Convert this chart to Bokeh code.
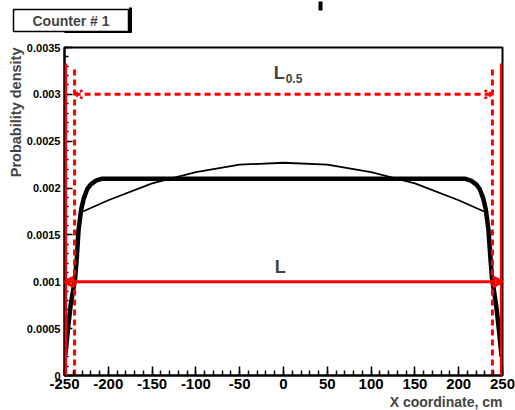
import numpy as np
from bokeh.plotting import figure
from bokeh.models import (Range1d, FixedTicker, Label, Arrow, OpenHead, BoxAnnotation, Title,
                          LinearAxis)
from bokeh.embed import file_html
from bokeh.resources import INLINE

# ---- data ----
thick_x = [-249, -246, -243, -240, -238, -236, -234, -231, -228, -224, -220, -214, -207,
           -150, -100, -50, 0, 50, 100, 150,
           207, 214, 220, 224, 228, 231, 234, 236, 238, 240, 243, 246, 249]
thick_y = [0.00022, 0.00050, 0.00075, 0.00092, 0.00102, 0.00125, 0.00155, 0.00177, 0.00189,
           0.00199, 0.00204, 0.00208, 0.00210,
           0.00210, 0.00210, 0.00210, 0.00210, 0.00210, 0.00210, 0.00210,
           0.00210, 0.00208, 0.00204, 0.00199, 0.00189, 0.00177, 0.00155, 0.00128,
           0.00104, 0.00092, 0.00073, 0.00048, 0.00020]

thin_x = [-229, -200, -150, -100, -50, 0, 50, 100, 150, 200, 229]
thin_y = [0.00175, 0.00187, 0.00205, 0.00217, 0.00225, 0.00227, 0.00225, 0.00217, 0.00205,
          0.00187, 0.00175]

x_ticks = [-250, -200, -150, -100, -50, 0, 50, 100, 150, 200, 250]
x_tick_labels = ["-250", "-200", "-150", "-100", "-50", "0", "50", "100", "150", "200", "250"]
y_ticks = [0, 0.0005, 0.001, 0.0015, 0.002, 0.0025, 0.003, 0.0035]
y_tick_labels = ["0", "0.0005", "0.001", "0.0015", "0.002", "0.0025", "0.003", "0.0035"]

L_ends = [-250, 250]
L_level = 0.001
L_top = 0.00333
L05_ends = [-238.5, 238.5]
L05_level = 0.003
L05_top = 0.00328

FONT = "Liberation Sans"
X0, X1 = -250, 250
FRAME_LEFT, FRAME_W = 64, 438


def px_to_x(px):
    """canvas pixel column -> x value (for decorations outside the frame)"""
    return X0 + (px - FRAME_LEFT) * (X1 - X0) / FRAME_W


p = figure(width=515, height=410, output_backend="svg", toolbar_location=None,
           x_range=Range1d(X0, X1), y_range=Range1d(0, 0.0035),
           min_border_left=64, min_border_right=13, min_border_top=47, min_border_bottom=35)
p.background_fill_color = "white"
p.border_fill_color = "white"
p.outline_line_color = "black"
p.outline_line_width = 2
p.xgrid.visible = False
p.ygrid.visible = False
p.title.visible = False

x_minor = [v for v in range(-250, 251, 10)]
y_minor = [round(i * 0.0001, 4) for i in range(0, 36)]
p.xaxis.ticker = FixedTicker(ticks=x_ticks, minor_ticks=x_minor)
p.yaxis.ticker = FixedTicker(ticks=y_ticks, minor_ticks=y_minor)
p.xaxis.major_label_overrides = {t: s for t, s in zip(x_ticks, x_tick_labels)}
p.yaxis.major_label_overrides = {t: s for t, s in zip(y_ticks, y_tick_labels)}

for ax in (p.xaxis[0], p.yaxis[0]):
    ax.axis_line_color = "black"
    ax.axis_line_width = 2
    ax.major_tick_out = 0
    ax.minor_tick_out = 0
    ax.major_tick_line_width = 1.5
    ax.minor_tick_line_width = 1.5
    ax.major_label_text_font = FONT
    ax.major_label_text_font_style = "bold"
    ax.major_label_text_color = "black"
p.xaxis.major_tick_in = 9
p.xaxis.minor_tick_in = 5
p.yaxis.major_tick_in = 8
p.yaxis.minor_tick_in = 4
p.xaxis.major_label_text_font_size = "15px"
p.yaxis.major_label_text_font_size = "11px"
p.xaxis.major_label_standoff = 3
p.yaxis.major_label_standoff = 4

# curves
p.line(thin_x, thin_y, line_color="black", line_width=1.8)
p.line(thick_x, thick_y, line_color="black", line_width=4.5)

# L0.5 dashed markers
p.segment(x0=L05_ends, y0=[0, 0], x1=L05_ends, y1=[L05_top, L05_top],
          line_color="red", line_width=3, line_dash="6 4")
p.add_layout(Arrow(x_start=L05_ends[0], y_start=L05_level, x_end=L05_ends[1], y_end=L05_level,
                   line_color="red", line_width=3, line_dash="6 4",
                   start=OpenHead(size=8, line_color="red", line_width=2.5, line_dash="3 2"),
                   end=OpenHead(size=8, line_color="red", line_width=2.5, line_dash="3 2")))

# L solid markers (kept inside the frame edge)
p.add_layout(BoxAnnotation(left=L_ends[0], right=L_ends[0] + 3, bottom=0, top=L_top,
                           fill_color="red", fill_alpha=1.0, line_alpha=0))
p.add_layout(BoxAnnotation(left=L_ends[1] - 3, right=L_ends[1], bottom=0, top=L_top,
                           fill_color="red", fill_alpha=1.0, line_alpha=0))
p.add_layout(Arrow(x_start=L_ends[0], y_start=L_level, x_end=L_ends[1], y_end=L_level,
                   line_color="red", line_width=3,
                   start=OpenHead(size=10, line_color="red", line_width=3),
                   end=OpenHead(size=10, line_color="red", line_width=3)))

# labels inside the frame
p.add_layout(Label(x=-11, y=0.003223, text="L", text_font=FONT, text_font_style="bold",
                   text_font_size="18px", text_baseline="alphabetic"))
p.add_layout(Label(x=2.5, y=0.00317, text="0.5", text_font=FONT, text_font_style="bold",
                   text_font_size="12px", text_baseline="alphabetic"))
p.add_layout(Label(x=-10, y=0.001153, text="L", text_font=FONT, text_font_style="bold",
                   text_font_size="18px", text_baseline="alphabetic"))

# axis titles as side-panel titles
p.add_layout(Title(text="Probability density", align="right", standoff=0,
                   text_font=FONT, text_font_style="bold", text_font_size="14.5px"), "left")
p.add_layout(Title(text="X coordinate, cm", align="right", standoff=0,
                   text_font=FONT, text_font_style="bold", text_font_size="14px"), "below")


def deco_axis(tick, bounds, tick_out, tick_in, tick_color, line_color, line_width, tick_width=3):
    return LinearAxis(ticker=FixedTicker(ticks=[tick], minor_ticks=[]),
                      major_label_overrides={tick: ""}, major_label_text_font_size="0px",
                      major_label_standoff=0, bounds=bounds,
                      axis_line_color=line_color, axis_line_width=line_width,
                      major_tick_out=tick_out, major_tick_in=tick_in,
                      major_tick_line_color=tick_color, major_tick_line_width=tick_width,
                      minor_tick_out=0, minor_tick_in=0, minor_tick_line_color=None)


shadow_l, shadow_r = px_to_x(16), px_to_x(131)
shadow_c = px_to_x(129.5)
mark_c = px_to_x(320)
# spacer between frame and pave
p.add_layout(deco_axis(0, "auto", 16, 0, None, None, 1), "above")
# bottom edge of the pave shadow
p.add_layout(deco_axis(shadow_l + 5, (shadow_l, shadow_r), 2, 0, None, "black", 3), "above")

# "Counter # 1" pave
counter = Title(text="Counter # 1", align="left", offset=-51, standoff=0,
                text_font=FONT, text_font_style="bold", text_font_size="14px",
                background_fill_color="white", border_line_color="black",
                border_line_width=1.5, padding=dict(left=19, right=19, top=3, bottom=3))
p.add_layout(counter, "above")
# right edge of the pave shadow
p.add_layout(deco_axis(shadow_c, (shadow_c - 1, shadow_c + 1), 0, 25, "black", None, 1), "above")
# clipped remnant of the canvas title at the very top
p.add_layout(deco_axis(mark_c, (mark_c - 1, mark_c + 1), 6, 3, "black", None, 1, 4), "above")

open("out.html", "w").write(file_html(p, INLINE))
